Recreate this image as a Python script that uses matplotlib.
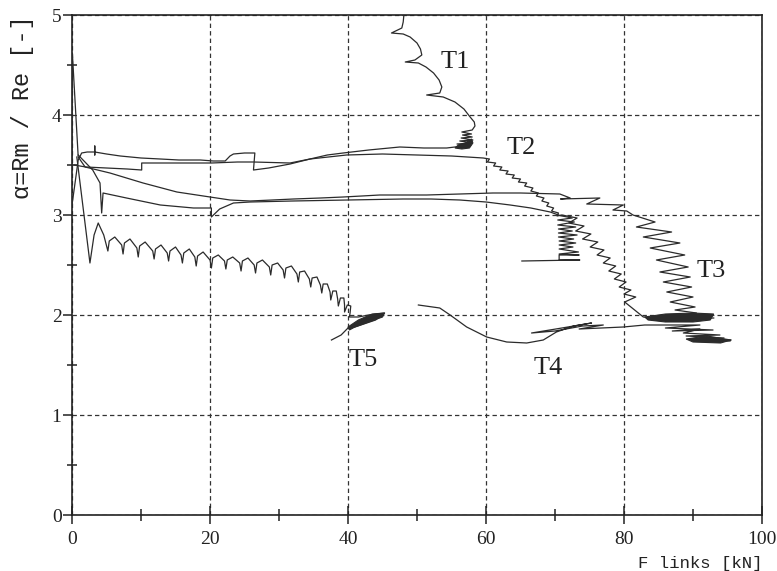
import matplotlib
matplotlib.use("Agg")
import matplotlib.pyplot as plt
from matplotlib.ticker import MultipleLocator

# ---- data (F links [kN], alpha [-]) ----
t1_x = [0.0, 0.9, 1.4, 2.2, 3.3, 3.3, 3.3, 3.3, 5.0, 7.0, 10.0, 12.8, 15.5, 18.6,
        20.5, 22.2, 22.9, 23.4, 25.0, 26.5, 26.3, 28.5, 31.6, 34.5, 37.0, 39.3,
        43.0, 47.5, 51.0, 54.3, 55.5,
        57.8, 55.8, 58.0, 56.2, 58.1, 56.4, 58.0, 56.6, 57.9, 56.5, 58.0,
        58.4, 58.3, 57.7, 56.8, 55.5, 53.8, 51.4, 53.3, 53.6, 53.2, 52.4, 51.3,
        50.2, 48.3, 49.7, 50.7, 50.5, 50.0, 49.0, 48.0, 46.3, 47.8, 48.0, 48.1]
t1_y = [3.10, 3.55, 3.62, 3.63, 3.63, 3.69, 3.60, 3.63, 3.61, 3.59, 3.57, 3.56, 3.55, 3.55,
        3.54, 3.54, 3.59, 3.61, 3.62, 3.62, 3.45, 3.47, 3.51, 3.56, 3.60, 3.62,
        3.65, 3.68, 3.67, 3.67, 3.68,
        3.70, 3.71, 3.72, 3.74, 3.75, 3.77, 3.78, 3.80, 3.81, 3.83, 3.85,
        3.89, 3.93, 3.98, 4.06, 4.13, 4.18, 4.20, 4.22, 4.28, 4.35, 4.42, 4.48,
        4.52, 4.53, 4.55, 4.60, 4.66, 4.72, 4.78, 4.81, 4.82, 4.87, 4.93, 5.00]

t2_x = [0.3, 2.0, 5.0, 8.0, 10.1, 10.1, 15.0, 20.2, 24.0, 26.3, 31.6, 34.5, 39.8,
        45.0, 50.0, 55.0, 59.6,
        60.5, 60.2, 61.4, 61.1, 62.3, 62.0, 63.2, 62.9, 64.1, 63.8, 65.0, 64.7,
        65.9, 65.6, 66.8, 66.5, 67.6, 67.3, 68.4, 68.1, 69.1, 68.8, 69.8, 69.5,
        70.5, 70.3,
        71.0, 73.2, 72.0, 74.2, 73.0, 75.2, 74.0, 76.2, 75.1, 77.1, 76.1, 78.0,
        77.0, 78.8, 77.8, 79.6, 78.6, 80.3, 79.3, 81.0, 80.0, 81.7, 80.1, 82.8,
        85.0, 88.0]
t2_y = [3.50, 3.48, 3.47, 3.46, 3.45, 3.52, 3.52, 3.52, 3.53, 3.53, 3.52, 3.56, 3.60,
        3.61, 3.60, 3.59, 3.57,
        3.56, 3.53, 3.52, 3.49, 3.48, 3.45, 3.44, 3.41, 3.40, 3.37, 3.36, 3.33,
        3.32, 3.29, 3.27, 3.24, 3.22, 3.19, 3.17, 3.14, 3.12, 3.09, 3.07, 3.04,
        3.02, 2.99,
        3.00, 2.97, 2.92, 2.89, 2.84, 2.81, 2.76, 2.73, 2.68, 2.65, 2.60, 2.57,
        2.52, 2.49, 2.44, 2.41, 2.36, 2.33, 2.28, 2.25, 2.21, 2.18, 2.13, 1.98,
        1.97, 1.99]

ladder_x = [70.3, 72.5, 70.4, 72.8, 70.4, 73.0, 70.5, 72.5, 70.5, 73.2, 70.5, 72.7,
            70.6, 73.0, 70.6, 72.6, 70.6, 73.4, 70.6, 73.5, 70.6, 70.6, 73.6, 65.2]
ladder_y = [3.00, 2.97, 2.95, 2.93, 2.90, 2.88, 2.86, 2.84, 2.82, 2.80, 2.78, 2.76,
            2.74, 2.72, 2.70, 2.68, 2.66, 2.63, 2.61, 2.60, 2.60, 2.55, 2.55, 2.54]

t3_x = [0.0, 0.05, 0.9, 1.9, 5.5, 10.3, 15.2, 20.0, 22.9, 25.8, 29.0, 32.1, 36.0,
        39.3, 42.0, 44.6, 48.0, 51.4, 56.2, 61.0, 65.0, 70.7, 72.2, 70.8, 76.5,
        74.6, 79.9, 78.4, 80.4,
        81.3, 84.5, 81.8, 86.9, 82.8, 88.1, 83.8, 88.8, 84.7, 89.3, 85.2, 89.6,
        85.7, 89.8, 86.2, 90.0, 86.7, 90.3, 87.4, 90.5, 86.0, 92.0, 84.0, 93.0]
t3_y = [3.50, 4.62, 3.58, 3.48, 3.42, 3.32, 3.23, 3.18, 3.15, 3.14, 3.15, 3.16, 3.17,
        3.18, 3.19, 3.20, 3.20, 3.20, 3.21, 3.22, 3.22, 3.21, 3.17, 3.16, 3.17,
        3.11, 3.10, 3.05, 3.04,
        3.00, 2.93, 2.88, 2.83, 2.78, 2.72, 2.67, 2.60, 2.55, 2.48, 2.43, 2.38,
        2.33, 2.28, 2.23, 2.18, 2.13, 2.08, 2.05, 2.02, 1.97, 1.99, 1.95, 1.97]

mid_x = [0.9, 3.0, 4.06, 4.3, 4.5, 7.9, 12.8, 17.6, 20.2, 20.2, 21.4, 23.4, 25.8,
         32.0, 40.0, 48.0, 52.0, 56.2, 60.0, 63.5, 66.5, 69.3, 70.5]
mid_y = [3.60, 3.45, 3.32, 3.02, 3.22, 3.17, 3.10, 3.07, 3.07, 2.98, 3.06, 3.12, 3.13,
         3.14, 3.15, 3.16, 3.16, 3.15, 3.13, 3.10, 3.07, 3.03, 3.00]

t4_x = [50.2, 53.3, 54.8, 57.2, 60.1, 63.0, 65.9, 68.3, 70.2, 72.7, 75.3, 71.0, 66.6,
        70.0, 74.0, 77.0, 73.5, 79.9, 83.0, 91.0, 86.0, 92.9, 87.0, 91.0, 88.6,
        93.9, 89.0, 94.5, 89.6, 95.4, 91.0, 94.0, 92.0, 95.5]
t4_y = [2.10, 2.07, 2.00, 1.88, 1.78, 1.73, 1.72, 1.75, 1.83, 1.89, 1.92, 1.87, 1.82,
        1.84, 1.89, 1.90, 1.86, 1.88, 1.90, 1.90, 1.87, 1.85, 1.84, 1.86, 1.82,
        1.80, 1.79, 1.77, 1.76, 1.74, 1.74, 1.73, 1.76, 1.75]

t5_x = [0.7, 2.6, 3.2, 3.8, 4.6, 5.2,
        5.4, 6.2, 7.2, 7.4, 7.6, 8.4, 9.4, 9.6, 9.8, 10.6, 11.7, 11.9,
        12.1, 12.9, 13.8, 14.0, 14.2, 15.0, 15.8, 16.0, 16.2, 17.0, 17.8, 18.0,
        18.2, 19.0, 20.0, 20.2, 20.4, 21.2, 22.1, 22.3, 22.5, 23.3, 24.3, 24.5,
        24.7, 25.5, 26.4, 26.6, 26.8, 27.6, 28.6, 28.8, 29.0, 29.8, 30.6, 30.8,
        31.0, 31.8, 32.6, 32.8, 33.0, 33.7, 34.4, 34.6, 34.8, 35.5, 36.0, 36.2,
        36.4, 37.0, 37.4, 37.5, 37.8, 38.3, 38.5, 38.6, 38.9, 39.4, 39.5, 39.5,
        39.9, 40.4, 40.3, 40.2, 41.5, 43.0, 45.3, 44.0, 41.0, 40.0, 39.0, 37.6]
t5_y = [3.58, 2.52, 2.80, 2.92, 2.80, 2.64,
        2.74, 2.78, 2.70, 2.61, 2.72, 2.76, 2.67, 2.58, 2.69, 2.73, 2.64, 2.56,
        2.66, 2.70, 2.62, 2.54, 2.64, 2.68, 2.60, 2.52, 2.62, 2.66, 2.58, 2.49,
        2.59, 2.63, 2.55, 2.47, 2.57, 2.60, 2.54, 2.46, 2.55, 2.58, 2.52, 2.44,
        2.54, 2.57, 2.50, 2.42, 2.52, 2.55, 2.48, 2.40, 2.50, 2.52, 2.45, 2.37,
        2.47, 2.49, 2.41, 2.33, 2.43, 2.44, 2.36, 2.28, 2.37, 2.38, 2.30, 2.22,
        2.31, 2.31, 2.23, 2.15, 2.24, 2.24, 2.16, 2.09, 2.17, 2.17, 2.10, 2.03,
        2.10, 2.09, 2.02, 1.98, 1.98, 2.00, 2.02, 1.95, 1.88, 1.87, 1.80, 1.75]

# dense (filled-in) regions of the trace
blob_t1_x = [55.5, 56.5, 57.6, 58.1, 57.9, 57.0, 56.0]
blob_t1_y = [3.67, 3.66, 3.67, 3.72, 3.76, 3.72, 3.70]
blob_t5_x = [40.0, 41.5, 43.5, 45.3, 45.0, 43.0, 41.0, 40.2]
blob_t5_y = [1.88, 1.95, 2.01, 2.02, 1.98, 1.93, 1.88, 1.85]
blob_t3_x = [83.0, 86.0, 90.0, 93.0, 92.5, 90.0, 86.0, 83.5]
blob_t3_y = [1.98, 2.01, 2.02, 2.01, 1.95, 1.93, 1.93, 1.95]
blob_t4_x = [89.0, 92.0, 95.5, 94.0, 90.0]
blob_t4_y = [1.76, 1.79, 1.75, 1.72, 1.73]

labels = ["T1", "T2", "T3", "T4", "T5"]
label_x = [55.5, 65.1, 92.6, 69.0, 42.2]
label_y = [4.53, 3.67, 2.44, 1.47, 1.55]

INK = "#2b2b2b"

fig = plt.figure(figsize=(7.77, 5.71), dpi=100)
ax = fig.add_axes([72 / 777, 56 / 571, 690 / 777, 500 / 571])

for xs, ys in [(t1_x, t1_y), (t2_x, t2_y), (ladder_x, ladder_y), (t3_x, t3_y),
               (mid_x, mid_y), (t4_x, t4_y), (t5_x, t5_y)]:
    ax.plot(xs, ys, color=INK, lw=0.9, zorder=3)
for xs, ys in [(blob_t1_x, blob_t1_y), (blob_t5_x, blob_t5_y),
               (blob_t3_x, blob_t3_y), (blob_t4_x, blob_t4_y)]:
    ax.fill(xs, ys, color=INK, lw=0.8, zorder=3)

for name, lx, ly in zip(labels, label_x, label_y):
    ax.text(lx, ly, name, family="Liberation Serif", fontsize=19,
            ha="center", va="center", color="#222222", zorder=4)

ax.set_xlim(0, 100)
ax.set_ylim(0, 5)
ax.xaxis.set_major_locator(MultipleLocator(20))
ax.xaxis.set_minor_locator(MultipleLocator(10))
ax.yaxis.set_major_locator(MultipleLocator(1))
ax.yaxis.set_minor_locator(MultipleLocator(0.5))
ax.grid(True, which="major", color="#333333", ls=(0, (3.5, 2.5)), lw=0.9)
ax.set_axisbelow(True)

ax.tick_params(axis="x", which="major", direction="inout", length=12.5, width=1.1,
               pad=5, labelsize=14, colors="#222222")
ax.tick_params(axis="x", which="minor", direction="inout", length=8.5, width=1.1,
               colors="#222222")
ax.tick_params(axis="y", which="major", direction="out", length=6.5, width=1.1,
               pad=1, labelsize=14, colors="#222222")
ax.tick_params(axis="y", which="minor", direction="inout", length=6.5, width=1.1,
               colors="#222222")
for lab in ax.get_xticklabels() + ax.get_yticklabels():
    lab.set_family("Liberation Serif")
for sp in ax.spines.values():
    sp.set_color("#222222")
    sp.set_linewidth(1.2)

fig.text(762 / 777, 1 - 568 / 571, "F links [kN]", family="Liberation Mono",
         fontsize=12.5, ha="right", va="baseline", color="#222222")
fig.text(23 / 777, 1 - 107 / 571, "\u03b1=Rm / Re [-]", family="Liberation Mono",
         fontsize=17, rotation=90, ha="center", va="center", color="#222222")

fig.savefig("out.png", dpi=100, facecolor="white")
